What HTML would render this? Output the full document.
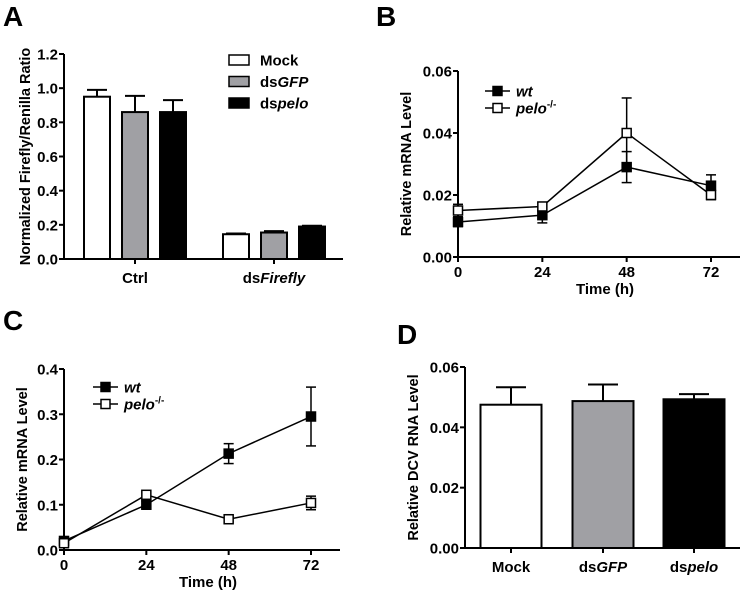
<!DOCTYPE html>
<html><head><meta charset="utf-8"><style>
body{margin:0;background:#fff;}
svg{display:block;font-family:"Liberation Sans",Arial,sans-serif;font-weight:bold;}
</style></head><body>
<svg id="s" width="745" height="596" viewBox="0 0 745 596"></svg>
<script>
// Panel A data
const aGroups=["Ctrl","dsFirefly"];
const aSeries=["Mock","dsGFP","dspelo"];
const aVals=[[0.95,0.86,0.86],[0.145,0.155,0.19]];
const aErr=[[0.04,0.095,0.07],[0.004,0.008,0.005]];
const aTicks=[0,0.2,0.4,0.6,0.8,1.0,1.2];
// Panel B data
const timePts=[0,24,48,72];
const bWt=[0.0113,0.0135,0.029,0.023];
const bWtErr=[0.0015,0.0025,0.005,0.0035];
const bPelo=[0.015,0.0163,0.040,0.020];
const bPeloErr=[0.002,0.001,0.0113,0.0015];
const bTicks=[0,0.02,0.04,0.06];
// Panel C data
const cWt=[0.02,0.10,0.213,0.295];
const cWtErr=[0.005,0.008,0.022,0.065];
const cPelo=[0.015,0.122,0.068,0.104];
const cPeloErr=[0.005,0.006,0.005,0.015];
const cTicks=[0,0.1,0.2,0.3,0.4];
// Panel D data
const dCats=["Mock","dsGFP","dspelo"];
const dVals=[0.0475,0.0487,0.0493];
const dErr=[0.0058,0.0055,0.0017];
const dTicks=[0,0.02,0.04,0.06];

const FS=15;
const S=document.getElementById('s');const NS="http://www.w3.org/2000/svg";
function mk(t,a,p){const e=document.createElementNS(NS,t);for(const k in a)e.setAttribute(k,a[k]);(p||S).appendChild(e);return e;}
function txt(x,y,s,a){const e=mk('text',Object.assign({x:x,y:y,'font-size':FS,'text-anchor':'middle',fill:'#000'},a||{}));e.innerHTML=s;return e;}
const fills=['#fff','#a0a0a4','#000'];

function axes(g,x0,y0,yTop,xEnd,ticks,sc,fmt,title,tcx){
  mk('line',{x1:x0,y1:yTop,x2:x0,y2:y0,stroke:'#000','stroke-width':2},g);
  mk('line',{x1:x0,y1:y0,x2:xEnd,y2:y0,stroke:'#000','stroke-width':2},g);
  ticks.forEach(t=>{const y=sc(t);mk('line',{x1:x0-5,y1:y,x2:x0,y2:y,stroke:'#000','stroke-width':2},g);
    const e=txt(x0-6,y+5.5,t.toFixed(fmt),{'text-anchor':'end'});g.appendChild(e);});
  const ty=(yTop+y0)/2;const e=txt(tcx,ty,title,{'font-size':14.5,transform:`rotate(-90 ${tcx} ${ty})`});
  g.appendChild(e);
}
function letter(x,y,s){const e=txt(x,y,s,{'font-size':28,'text-anchor':'start'});}

// ---- Panel A
{const g=mk('g',{});
letter(3,26,'A');
const y0=259,yT=54,sc=v=>y0-(v/1.2)*(y0-yT);
axes(g,64,y0,yT,343,aTicks,sc,1,'Normalized Firefly/Renilla Ratio',30);
const gc=[135,274],bw=26,off=[-38,0,38];
aGroups.forEach((gn,gi)=>{
  mk('line',{x1:gc[gi],y1:y0,x2:gc[gi],y2:y0+5,stroke:'#000','stroke-width':2},g);
  aSeries.forEach((sn,si)=>{const cx=gc[gi]+off[si],v=aVals[gi][si],top=sc(v),et=sc(v+aErr[gi][si]);
    mk('line',{x1:cx,y1:top,x2:cx,y2:et,stroke:'#000','stroke-width':2},g);
    mk('line',{x1:cx-10,y1:et,x2:cx+10,y2:et,stroke:'#000','stroke-width':2},g);
    const r=mk('rect',{x:cx-bw/2,y:top,width:bw,height:y0-top,fill:fills[si],stroke:'#000','stroke-width':2},g);
    });
});
let e=txt(135,283,'Ctrl');
e=txt(274,283,'ds<tspan font-style="italic">Firefly</tspan>');
const ln=['Mock','ds<tspan font-style="italic">GFP</tspan>','ds<tspan font-style="italic">pelo</tspan>'];
ln.forEach((l,i)=>{const y=60+i*21.5;const r=mk('rect',{x:229,y:y-5,width:20,height:10,fill:fills[i],stroke:'#000','stroke-width':1.5});
 
 const t=txt(260,y+5.5,l,{'text-anchor':'start'});});
}

function linePanel(name,x0,y0,yT,xEnd,xs,ymax,ticks,fmt,wt,wtE,pe,peE,legX,legY,tcx){
  const g=mk('g',{});
  const sc=v=>y0-(v/ymax)*(y0-yT);const sx=t=>x0+(t/72)*(xs-x0);
  axes(g,x0,y0,yT,xEnd,ticks,sc,fmt,'Relative mRNA Level',tcx);
  timePts.forEach(t=>{const x=sx(t);mk('line',{x1:x,y1:y0,x2:x,y2:y0+5,stroke:'#000','stroke-width':2},g);
    const e=txt(x,y0+20,String(t));g.appendChild(e);});
  const e=txt((x0+xEnd)/2+6,y0+37,'Time (h)');
  [[wt,wtE,'#000','series-wt'],[pe,peE,'#fff','series-pelo']].forEach(([vals,errs,f,nm])=>{
    const sg=mk('g',{},g);
    mk('polyline',{points:vals.map((v,i)=>sx(timePts[i])+','+sc(v)).join(' '),fill:'none',stroke:'#000','stroke-width':1.5},sg);
    vals.forEach((v,i)=>{const x=sx(timePts[i]);const a=sc(v+errs[i]),b=sc(v-errs[i]);
      mk('line',{x1:x,y1:a,x2:x,y2:b,stroke:'#000','stroke-width':1.5},sg);
      mk('line',{x1:x-5,y1:a,x2:x+5,y2:a,stroke:'#000','stroke-width':1.5},sg);
      mk('line',{x1:x-5,y1:b,x2:x+5,y2:b,stroke:'#000','stroke-width':1.5},sg);
      const r=mk('rect',{x:x-4.5,y:sc(v)-4.5,width:9,height:9,fill:f,stroke:'#000','stroke-width':1.5},sg);
      });
  });
  [['#000','<tspan font-style="italic">wt</tspan>'],['#fff','<tspan font-style="italic">pelo</tspan><tspan font-size="10" dy="-6">-/-</tspan>']].forEach(([f,l],i)=>{
    const y=legY+i*17;mk('line',{x1:legX,y1:y,x2:legX+25,y2:y,stroke:'#000','stroke-width':1.5},g);
    mk('rect',{x:legX+8,y:y-4.5,width:9,height:9,fill:f,stroke:'#000','stroke-width':1.5},g);
    const t=txt(legX+31,y+5.5,l,{'text-anchor':'start'});});
}
letter(376,26,'B');
linePanel('panel-b',458,257,71,740,711,0.06,bTicks,2,bWt,bWtErr,bPelo,bPeloErr,485,91,411);
letter(3,330,'C');
linePanel('panel-c',64,550,369,340,311,0.4,cTicks,1,cWt,cWtErr,cPelo,cPeloErr,93,387,27);

// ---- Panel D
{const g=mk('g',{});
letter(397,344,'D');
const y0=548,yT=367,sc=v=>y0-(v/0.06)*(y0-yT);
axes(g,465,y0,yT,740,dTicks,sc,2,'Relative DCV RNA Level',418);
const cx=[511,603,694],bw=61;
const lbl=['Mock','ds<tspan font-style="italic">GFP</tspan>','ds<tspan font-style="italic">pelo</tspan>'];
dCats.forEach((c,i)=>{const top=sc(dVals[i]),et=sc(dVals[i]+dErr[i]);
  mk('line',{x1:cx[i],y1:y0,x2:cx[i],y2:y0+5,stroke:'#000','stroke-width':2},g);
  mk('line',{x1:cx[i],y1:top,x2:cx[i],y2:et,stroke:'#000','stroke-width':2},g);
  mk('line',{x1:cx[i]-15,y1:et,x2:cx[i]+15,y2:et,stroke:'#000','stroke-width':2},g);
  const r=mk('rect',{x:cx[i]-bw/2,y:top,width:bw,height:y0-top,fill:fills[i],stroke:'#000','stroke-width':2},g);
  
  const t=txt(cx[i],y0+24,lbl[i]);});
}
</script>
</body></html>
